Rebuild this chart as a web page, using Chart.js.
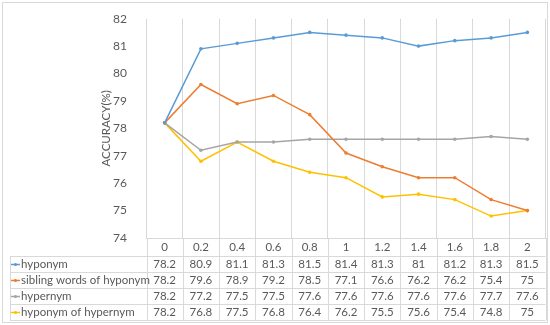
<!DOCTYPE html>
<html>
<head>
<meta charset="utf-8">
<script src="https://cdn.jsdelivr.net/npm/chart.js@4/dist/chart.umd.min.js"></script>
<style>
  html, body { margin: 0; padding: 0; background: #ffffff; }
  #wrap { width: 550px; height: 325px; position: relative; }
</style>
</head>
<body>
<div id="wrap"><canvas id="c" width="550" height="325"></canvas></div>
<script>
// ---- data ----
const categories = ['0', '0.2', '0.4', '0.6', '0.8', '1', '1.2', '1.4', '1.6', '1.8', '2'];
const hyponym = [78.2, 80.9, 81.1, 81.3, 81.5, 81.4, 81.3, 81, 81.2, 81.3, 81.5];
const siblingWords = [78.2, 79.6, 78.9, 79.2, 78.5, 77.1, 76.6, 76.2, 76.2, 75.4, 75];
const hypernym = [78.2, 77.2, 77.5, 77.5, 77.6, 77.6, 77.6, 77.6, 77.6, 77.7, 77.6];
const hyponymOfHypernym = [78.2, 76.8, 77.5, 76.8, 76.4, 76.2, 75.5, 75.6, 75.4, 74.8, 75];
const seriesNames = ['hyponym', 'sibling words of hyponym', 'hypernym', 'hyponym of hypernym'];
const yTitle = 'ACCURACY(%)';

const colors = ['#5B9BD5', '#ED7D31', '#A5A5A5', '#FFC000'];
const seriesData = [hyponym, siblingWords, hypernym, hyponymOfHypernym];
const textColor = '#595959';
const gridColor = '#D9D9D9';
const fontFamily = 'Lato, "Open Sans", sans-serif';

const datasets = seriesData.map((d, i) => ({
  label: seriesNames[i],
  data: d,
  borderColor: colors[i],
  backgroundColor: colors[i],
  borderWidth: 1.5,
  pointRadius: 1.8,
  pointBorderWidth: 0,
  pointHoverRadius: 2,
  tension: 0,
  fill: false
}));

const tablePlugin = {
  id: 'dataTable',
  afterDraw(chart) {
    const ctx = chart.ctx;
    const x = chart.scales.x;
    const area = chart.chartArea;
    const n = categories.length;
    const band = (x.getPixelForValue(1) - x.getPixelForValue(0));
    const headerBottom = area.bottom + 18;
    const rowH = 16;
    const tableLeft = 10;
    const tableRight = area.right;
    const tableBottom = headerBottom + rowH * seriesNames.length;

    ctx.save();
    ctx.strokeStyle = gridColor;
    ctx.lineWidth = 1;
    // horizontal lines
    for (let r = 0; r <= seriesNames.length; r++) {
      const yy = Math.round(headerBottom + r * rowH) + 0.5;
      ctx.beginPath();
      ctx.moveTo(tableLeft, yy);
      ctx.lineTo(tableRight, yy);
      ctx.stroke();
    }
    // left edge of table
    ctx.beginPath();
    ctx.moveTo(tableLeft + 0.5, Math.round(headerBottom) + 0.5);
    ctx.lineTo(tableLeft + 0.5, Math.round(tableBottom) + 0.5);
    ctx.stroke();
    // column separators
    for (let i = 0; i <= n; i++) {
      const xx = Math.round(x.getPixelForValue(0) - band / 2 + i * band) + 0.5;
      ctx.beginPath();
      ctx.moveTo(xx, area.bottom);
      ctx.lineTo(xx, Math.round(tableBottom) + 0.5);
      ctx.stroke();
    }
    // outer border
    ctx.strokeRect(2.5, 2.5, 545, 320);

    // header
    ctx.fillStyle = textColor;
    ctx.font = '11.5px ' + fontFamily;
    ctx.textAlign = 'center';
    ctx.textBaseline = 'middle';
    for (let i = 0; i < n; i++) {
      ctx.fillText(categories[i], x.getPixelForValue(i), area.bottom + 9.5);
    }
    // rows
    for (let r = 0; r < seriesNames.length; r++) {
      const yc = headerBottom + r * rowH + rowH / 2 + 0.5;
      ctx.textAlign = 'center';
      for (let i = 0; i < n; i++) {
        ctx.fillText(String(seriesData[r][i]), x.getPixelForValue(i), yc);
      }
      // legend key
      ctx.strokeStyle = colors[r];
      ctx.lineWidth = 1.5;
      ctx.beginPath();
      ctx.moveTo(tableLeft + 1, yc);
      ctx.lineTo(tableLeft + 10, yc);
      ctx.stroke();
      ctx.fillStyle = colors[r];
      ctx.beginPath();
      ctx.arc(tableLeft + 5.5, yc, 1.6, 0, Math.PI * 2);
      ctx.fill();
      ctx.fillStyle = textColor;
      ctx.textAlign = 'left';
      ctx.fillText(seriesNames[r], tableLeft + 11, yc);
    }
    ctx.restore();
  }
};

new Chart(document.getElementById('c'), {
  type: 'line',
  data: { labels: categories, datasets },
  options: {
    responsive: false,
    animation: false,
    devicePixelRatio: 1,
    layout: { padding: { left: 0, right: 4.5, top: 10, bottom: 0 } },
    plugins: { legend: { display: false }, tooltip: { enabled: false } },
    scales: {
      x: {
        type: 'category',
        offset: true,
        grid: { display: true, offset: true, color: gridColor, drawTicks: false },
        border: { display: true, color: gridColor },
        ticks: { display: false },
        afterFit(s) { s.height = 87; }
      },
      y: {
        min: 74,
        max: 82,
        ticks: { stepSize: 1, color: textColor, font: { family: fontFamily, size: 12 }, padding: 11.5 },
        grid: { display: false },
        border: { display: false },
        title: {
          display: true,
          text: yTitle,
          color: textColor,
          font: { family: fontFamily, size: 11.5 },
          padding: { top: 99, bottom: 0 }
        },
        afterFit(s) { s.width = 146.5; }
      }
    }
  },
  plugins: [tablePlugin]
});
</script>
</body>
</html>
